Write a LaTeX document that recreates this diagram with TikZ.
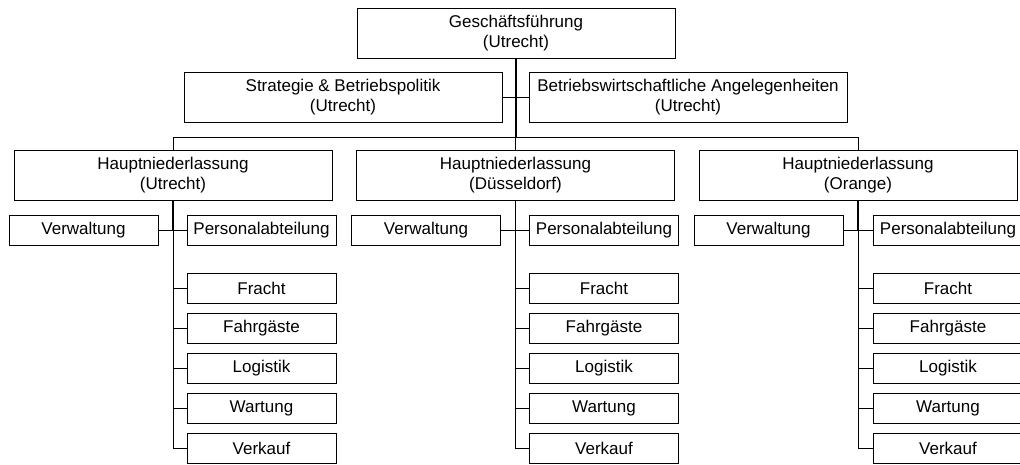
\documentclass[tikz,border=0pt]{standalone}
\usepackage{fontspec}
\setmainfont{Liberation Sans}

\begin{document}
\begin{tikzpicture}[x=1pt,y=-1pt,
	bigbox/.style={draw,line width=1pt,minimum width=318pt,minimum height=50pt,inner sep=0pt,align=center,font=\fontsize{17}{20}\selectfont},
	smallbox/.style={draw,line width=1pt,minimum width=149pt,minimum height=30pt,inner sep=0pt,font=\fontsize{17}{20}\selectfont},
	trunk/.style={line width=1.8pt},
	branch/.style={line width=1pt}]

%frame
\useasboundingbox (0,0) rectangle (1020,464);

%grid help
% \draw[gray, very thin, step=50] (0,0) grid (1020,464);

%Geschaeftsfuehrung
\node[bigbox] (gf) at (516,33) {Geschäftsführung\\(Utrecht)};

%Staff boxes
\node[bigbox] (strat) at (343,97.5) {Strategie \& Betriebspolitik\\(Utrecht)};
\node[bigbox] (bwa) at (688,97.5) {Betriebswirtschaftliche Angelegenheiten\\(Utrecht)};

%Bus to the branches
\coordinate (bus) at (516,137);
\draw[trunk] (gf.south) -- (gf.south |- bus);
\draw[branch] (strat.east) -- (strat.east -| gf.south);
\draw[branch] (bwa.west) -- (bwa.west -| gf.south);

%Branches
\node[bigbox] (hnU) at (173,175) {Hauptniederlassung\\(Utrecht)};
\node[bigbox] (hnD) at (515.5,175) {Hauptniederlassung\\(Düsseldorf)};
\node[bigbox] (hnO) at (858,175) {Hauptniederlassung\\(Orange)};

\draw[branch] (hnU.north) -- (hnU.north |- bus) -- (hnO.north |- bus) -- (hnO.north);
\draw[branch] (hnD.north) -- (hnD.north |- bus);

%%%%%%%%%%%% Utrecht %%%%%%%%%%%%%%%%%%%

\node[smallbox] (verwU) at (83.5,230) {Verwaltung};
\node[smallbox] (persU) at (261.5,230) {Personalabteilung};
\node[smallbox] (frachtU) at (261.5,288) {Fracht};
\node[smallbox] (fahrU) at (261.5,328) {Fahrgäste};
\node[smallbox] (logU) at (261.5,368) {Logistik};
\node[smallbox] (wartU) at (261.5,408) {Wartung};
\node[smallbox] (verkU) at (261.5,448) {Verkauf};

% stem and side lines
\draw[trunk] (hnU.south) -- (hnU.south |- verwU.east);
\draw[branch] (hnU.south |- verwU.east) |- (verkU.west);
\draw[branch] (verwU.east) -- (persU.west);
\draw[branch] (frachtU.west) -- (frachtU.west -| hnU.south);
\draw[branch] (fahrU.west) -- (fahrU.west -| hnU.south);
\draw[branch] (logU.west) -- (logU.west -| hnU.south);
\draw[branch] (wartU.west) -- (wartU.west -| hnU.south);

%%%%%%%%%%%% Duesseldorf %%%%%%%%%%%%%%%%%%%

\node[smallbox] (verwD) at (426,230) {Verwaltung};
\node[smallbox] (persD) at (604,230) {Personalabteilung};
\node[smallbox] (frachtD) at (604,288) {Fracht};
\node[smallbox] (fahrD) at (604,328) {Fahrgäste};
\node[smallbox] (logD) at (604,368) {Logistik};
\node[smallbox] (wartD) at (604,408) {Wartung};
\node[smallbox] (verkD) at (604,448) {Verkauf};

% stem and side lines
\draw[trunk] (hnD.south) -- (hnD.south |- verwD.east);
\draw[branch] (hnD.south |- verwD.east) |- (verkD.west);
\draw[branch] (verwD.east) -- (persD.west);
\draw[branch] (frachtD.west) -- (frachtD.west -| hnD.south);
\draw[branch] (fahrD.west) -- (fahrD.west -| hnD.south);
\draw[branch] (logD.west) -- (logD.west -| hnD.south);
\draw[branch] (wartD.west) -- (wartD.west -| hnD.south);

%%%%%%%%%%%% Orange %%%%%%%%%%%%%%%%%%%
% (right column runs off the page edge)

\node[smallbox] (verwO) at (768.5,230) {Verwaltung};
\node[smallbox] (persO) at (948,230) {Personalabteilung};
\node[smallbox] (frachtO) at (948,288) {Fracht};
\node[smallbox] (fahrO) at (948,328) {Fahrgäste};
\node[smallbox] (logO) at (948,368) {Logistik};
\node[smallbox] (wartO) at (948,408) {Wartung};
\node[smallbox] (verkO) at (948,448) {Verkauf};

% stem and side lines
\draw[trunk] (hnO.south) -- (hnO.south |- verwO.east);
\draw[branch] (hnO.south |- verwO.east) |- (verkO.west);
\draw[branch] (verwO.east) -- (persO.west);
\draw[branch] (frachtO.west) -- (frachtO.west -| hnO.south);
\draw[branch] (fahrO.west) -- (fahrO.west -| hnO.south);
\draw[branch] (logO.west) -- (logO.west -| hnO.south);
\draw[branch] (wartO.west) -- (wartO.west -| hnO.south);

\end{tikzpicture}
\end{document}
